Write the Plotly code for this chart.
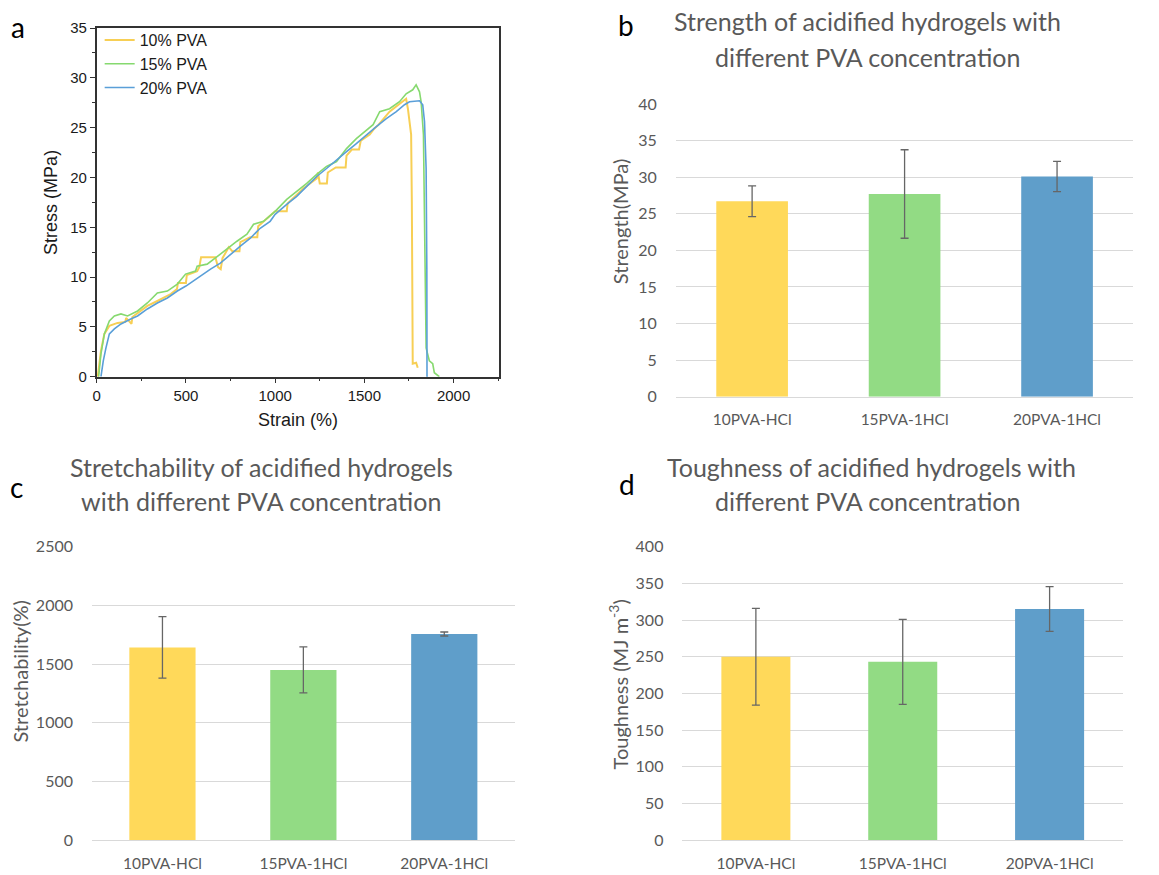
import plotly.graph_objects as go

W, H = 1159, 875


def px(x):
    return x / W


def py(y):
    # vertical page position -> paper fraction (page body offset and scale)
    return 1 - ((y - 7.9) / 0.982) / H


# ---- Panel a: stress-strain curves ----
strain_10 = [6, 24, 43, 71, 117, 160, 165, 195, 200, 229, 284, 340, 415, 450, 455, 500, 505,
             563, 575, 585, 665, 680, 695, 705, 740, 760, 800, 805, 860, 900, 905, 1000,
             1030, 1065, 1070, 1158, 1233, 1240, 1250, 1290, 1295, 1340, 1395, 1400,
             1430, 1470, 1480, 1530, 1555, 1580, 1641, 1716, 1734, 1744, 1762, 1766,
             1768, 1771, 1790, 1799]
stress_10 = [0, 2.6, 4.3, 5.1, 5.4, 5.5, 5.9, 5.3, 6.0, 6.4, 7.1, 7.6, 8.3, 8.8, 9.4, 9.4, 10.2,
             10.6, 11.0, 12.0, 12.0, 11.0, 10.8, 11.9, 13.0, 12.6, 12.6, 13.5, 14.0, 14.0,
             15.1, 16.6, 16.6, 16.6, 17.4, 18.9, 19.9, 20.5, 19.4, 19.4, 20.5, 21.0, 21.0,
             22.2, 22.8, 22.8, 23.7, 24.3, 24.9, 25.3, 26.6, 27.6, 27.9, 26.9, 24.3, 17.6,
             6.4, 1.3, 1.4, 0.9]

strain_15 = [11, 24, 43, 71, 99, 136, 173, 229, 284, 340, 396, 452, 498, 554, 563, 619, 693,
             749, 786, 842, 879, 935, 1000, 1065, 1121, 1177, 1233, 1288, 1344, 1400, 1455,
             1500, 1549, 1586, 1641, 1697, 1734, 1771, 1790, 1809, 1818, 1831, 1837, 1842,
             1846, 1864, 1883, 1892, 1920]
stress_15 = [0, 2.3, 4.3, 5.6, 6.1, 6.3, 6.1, 6.6, 7.4, 8.4, 8.6, 9.3, 10.3, 10.6, 11.1, 11.3,
             12.3, 13.1, 13.6, 14.3, 15.3, 15.6, 16.6, 17.8, 18.6, 19.4, 20.3, 21.1, 21.6,
             22.9, 23.9, 24.6, 25.3, 26.6, 26.9, 27.6, 28.4, 28.8, 29.3, 28.6, 27.6, 24.3,
             17.6, 7.6, 2.9, 1.6, 1.3, 0.4, 0]

strain_20 = [24, 37, 52, 71, 99, 136, 191, 229, 284, 340, 396, 452, 500, 563, 638, 693, 749,
             805, 861, 916, 972, 1000, 1065, 1121, 1177, 1233, 1288, 1344, 1400, 1455, 1511,
             1567, 1623, 1679, 1725, 1753, 1809, 1827, 1837, 1846, 1850, 1851, 1856]
stress_20 = [0, 1.6, 2.9, 4.3, 4.8, 5.3, 5.8, 6.1, 6.8, 7.4, 7.9, 8.6, 9.1, 9.9, 10.8, 11.4,
             12.3, 13.1, 13.9, 14.9, 15.6, 16.3, 17.3, 18.1, 19.1, 20.1, 20.9, 21.8, 22.6,
             23.4, 24.3, 25.1, 25.9, 26.6, 27.3, 27.6, 27.7, 27.3, 25.6, 20.9, 10.9, 0, 0]

curve_names = ["10% PVA", "15% PVA", "20% PVA"]
curve_colors = ["#F7CF55", "#86D96F", "#5A9FD8"]
curve_widths = [2.0, 1.6, 1.6]

# ---- Panels b, c, d: bar summaries ----
groups = ["10PVA-HCl", "15PVA-1HCl", "20PVA-1HCl"]
bar_colors = ["#FFD95A", "#92DB84", "#5F9ECA"]

strength = [26.7, 27.7, 30.1]
strength_err = [2.1, 6.05, 2.07]

stretch = [1642, 1450, 1756]
stretch_err = [262, 196, 17]

tough = [250, 243, 315]
tough_err = [66, 58, 30.5]

fig = go.Figure()

for sx, sy, name, col, lw in zip([strain_10, strain_15, strain_20],
                                 [stress_10, stress_15, stress_20],
                                 curve_names, curve_colors, curve_widths):
    fig.add_trace(go.Scatter(x=sx, y=sy, mode="lines", name=name,
                             line=dict(color=col, width=lw),
                             xaxis="x", yaxis="y"))

for vals, errs, ax, ay in [(strength, strength_err, "x2", "y2"),
                           (stretch, stretch_err, "x3", "y3"),
                           (tough, tough_err, "x4", "y4")]:
    fig.add_trace(go.Bar(x=groups, y=vals, width=0.47,
                         marker=dict(color=bar_colors, line=dict(width=0)),
                         error_y=dict(type="data", array=errs, visible=True,
                                      color="#666666", thickness=1.3, width=4),
                         showlegend=False, xaxis=ax, yaxis=ay))

axis_font_a = dict(family="Arial, Liberation Sans", size=15, color="#1a1a1a")
title_font_a = dict(family="Arial, Liberation Sans", size=18, color="#1a1a1a")

gray = "#595959"
tick_font_bar = dict(family="Lato", size=16, color=gray)
cat_font_bar = dict(family="Lato", size=15.5, color=gray)

layout = dict(
    width=W, height=H,
    margin=dict(l=0, r=0, t=0, b=0),
    paper_bgcolor="white", plot_bgcolor="white",
    showlegend=True,
    legend=dict(x=px(96), y=py(21), xanchor="left", yanchor="top",
                bgcolor="rgba(0,0,0,0)", borderwidth=0,
                font=dict(family="Arial, Liberation Sans", size=16, color="#1a1a1a"),
                tracegroupgap=0),
    xaxis=dict(domain=[px(93), px(497)], range=[0, 2256],
               tickvals=[0, 500, 1000, 1500, 2000], ticks="outside", ticklen=5,
               tickwidth=1.3, tickcolor="#333333",
               minor=dict(dtick=250, ticks="outside", ticklen=3, tickcolor="#333333"),
               showline=True, linecolor="#333333", linewidth=1.5, mirror=True,
               showgrid=False, zeroline=False, tickfont=axis_font_a,
               title=dict(text="Strain (%)", font=title_font_a, standoff=10)),
    yaxis=dict(domain=[py(376), py(26)], range=[0, 35], dtick=5,
               ticks="outside", ticklen=5, tickwidth=1.3, tickcolor="#333333",
               minor=dict(dtick=2.5, ticks="outside", ticklen=3, tickcolor="#333333"),
               showline=True, linecolor="#333333", linewidth=1.5, mirror=True,
               showgrid=False, zeroline=False, tickfont=axis_font_a,
               title=dict(text="Stress (MPa)", font=title_font_a, standoff=8)),
)

bar_axes = {
    "2": ([674.2, 1133.2], [396, 102.3], [0, 40], 5),
    "3": ([88.3, 512.5], [841, 546.7], [0, 2500], 500),
    "4": ([680.8, 1122.9], [841, 546.7], [0, 400], 50),
}
for k, (xd, yd, yr, dt) in bar_axes.items():
    layout["xaxis" + k] = dict(domain=[px(xd[0]), px(xd[1])], anchor="y" + k,
                               type="category", ticks="", showgrid=False,
                               showline=True, linecolor="#D9D9D9", linewidth=1,
                               tickfont=cat_font_bar, ticklabelstandoff=9)
    layout["yaxis" + k] = dict(domain=[py(yd[0]), py(yd[1])], anchor="x" + k,
                               range=yr, dtick=dt, ticks="", showline=False,
                               showgrid=True, gridcolor="#D9D9D9", gridwidth=1,
                               zeroline=False, tickfont=tick_font_bar,
                               ticklabelstandoff=18)

fig.update_layout(**layout)

annotations = []
# panel letters
for letter, (lx, ly) in {"a": (14, 25), "b": (624, 23), "c": (13, 487),
                         "d": (625, 484)}.items():
    annotations.append(dict(text=letter, x=px(lx), y=py(ly), xref="paper", yref="paper",
                            xanchor="center", yanchor="middle", showarrow=False,
                            font=dict(family="Lato", size=28, color="#000000")))

title_font = dict(family="Lato", size=25, color=gray)
title_lines = [
    ("Strength of acidified hydrogels with", 866, 19),
    ("different PVA concentration", 866, 55),
    ("Stretchability of acidified hydrogels", 258, 467),
    ("with different PVA concentration", 258, 501),
    ("Toughness of acidified hydrogels with", 871, 467),
    ("different PVA concentration", 866, 501),
]
for txt, tx, ty in title_lines:
    annotations.append(dict(text=txt, x=px(tx), y=py(ty), xref="paper", yref="paper",
                            xanchor="center", yanchor="middle", showarrow=False,
                            font=title_font))

ytitle_font = dict(family="Lato", size=20, color=gray)
for txt, tx, ty in [("Strength(MPa)", 618, 220),
                    ("Stretchability(%)", 16, 672),
                    ("Toughness (MJ m<sup>-3</sup>)", 616, 685)]:
    annotations.append(dict(text=txt, x=px(tx), y=py(ty), xref="paper", yref="paper",
                            xanchor="center", yanchor="middle", showarrow=False,
                            textangle=-90, font=ytitle_font))

fig.update_layout(annotations=annotations)

fig.write_html("out.html")
